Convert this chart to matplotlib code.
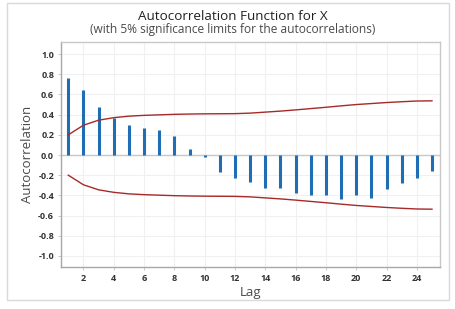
import matplotlib
matplotlib.use("Agg")
import matplotlib.pyplot as plt
from matplotlib.patches import Rectangle

lags = list(range(1, 26))
acf = [0.76, 0.64, 0.48, 0.37, 0.30, 0.27, 0.245, 0.19, 0.056, -0.02,
       -0.166, -0.227, -0.268, -0.33, -0.33, -0.38, -0.40, -0.40, -0.44, -0.40,
       -0.43, -0.335, -0.28, -0.225, -0.155]
limit = [0.20, 0.295, 0.345, 0.37, 0.385, 0.393, 0.398, 0.403, 0.406, 0.408,
         0.409, 0.41, 0.415, 0.425, 0.435, 0.447, 0.46, 0.473, 0.487, 0.50,
         0.51, 0.52, 0.528, 0.535, 0.537]
xticks = list(range(2, 25, 2))
yticks = [-1.0, -0.8, -0.6, -0.4, -0.2, 0.0, 0.2, 0.4, 0.6, 0.8, 1.0]

plt.rcParams['font.family'] = ['Open Sans', 'DejaVu Sans']

fig = plt.figure(figsize=(4.55, 3.09), dpi=100)
fig.patches.append(Rectangle((7/455, 1 - 300/309), 442/455, 297/309, transform=fig.transFigure,
                             fill=False, edgecolor='#d9d9d9', linewidth=1))
ax = fig.add_axes([61/455, 1 - 267/309, (440 - 61)/455, (267 - 42)/309])

ax.set_xlim(0.52, 25.53)
ax.set_ylim(-1.11, 1.12)
ax.set_xticks(xticks)
ax.set_yticks(yticks)
ax.set_yticklabels([f"{v:.1f}" for v in yticks])
ax.grid(True, color='#f0f0f0', linewidth=0.8)
ax.set_axisbelow(True)
ax.axhline(0, color='#c8c8c8', linewidth=1, zorder=1)

ax.vlines(lags, 0, acf, colors='#1f6db4', linewidth=2.2, zorder=3)
ax.plot(lags, limit, color='#a52a2a', linewidth=1.0, zorder=4)
ax.plot(lags, [-v for v in limit], color='#a52a2a', linewidth=1.0, zorder=4)

for s in ax.spines.values():
    s.set_color('#c8c8c8')
    s.set_linewidth(1)
ax.spines['left'].set_color('#a8a8a8')
ax.spines['bottom'].set_color('#a8a8a8')
ax.tick_params(axis='both', length=2, width=0.6, color='#c0c0c0', labelsize=6.5, labelcolor='#333333', pad=3)
for lbl in ax.get_xticklabels() + ax.get_yticklabels():
    lbl.set_fontweight('bold')

ax.set_xlabel('Lag', fontsize=9.5, color='#4a4a4a', labelpad=2)
ax.set_ylabel('Autocorrelation', fontsize=9.5, color='#4a4a4a', labelpad=3)

fig.text(233/455, 1 - 16/309, 'Autocorrelation Function for X', ha='center', va='center',
         fontsize=9.7, color='#222222')
fig.text(233/455, 1 - 29/309, '(with 5% significance limits for the autocorrelations)', ha='center', va='center',
         fontsize=8.6, color='#4a4a4a')

fig.savefig('out.png', dpi=100, facecolor='white')
